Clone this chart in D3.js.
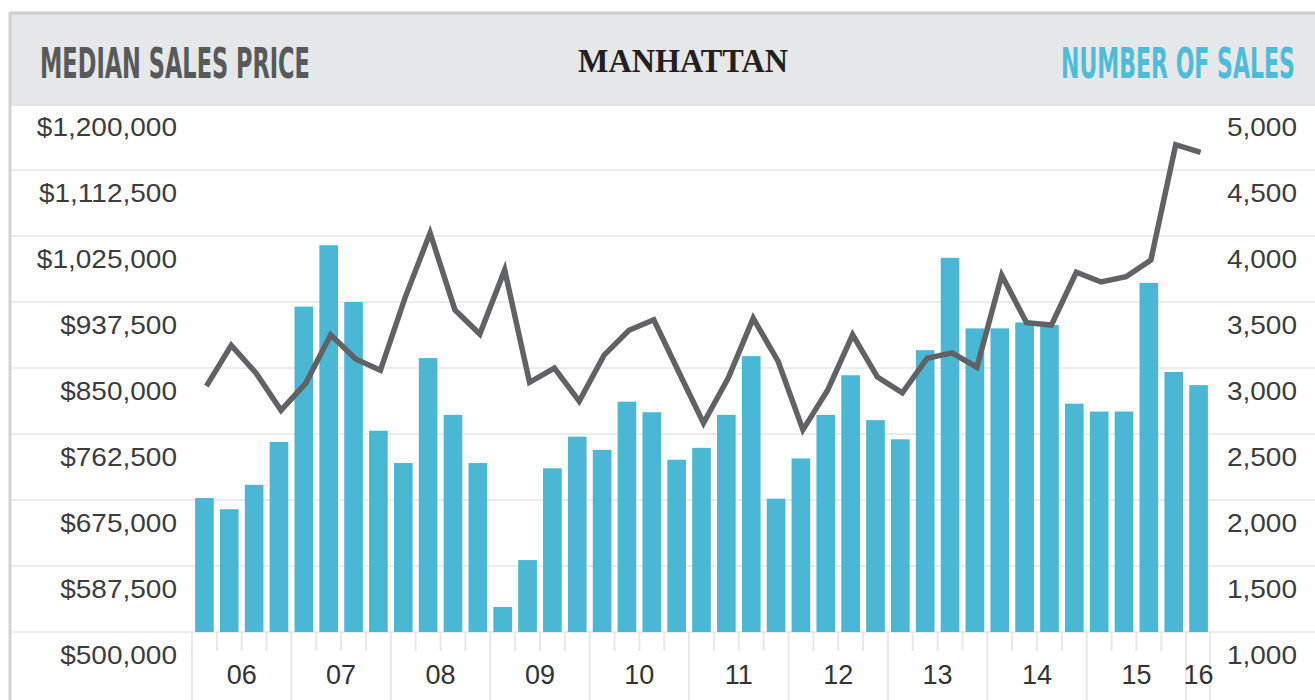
<!DOCTYPE html>
<html>
<head>
<meta charset="utf-8">
<script src="https://cdn.jsdelivr.net/npm/d3@7"></script>
<style>
body { margin: 0; background: #fff; }
svg { display: block; }
</style>
</head>
<body>
<div id="chart"></div>
<script>
// quarterly data, 1Q06 .. 1Q16
const quarters = ["1Q06","2Q06","3Q06","4Q06","1Q07","2Q07","3Q07","4Q07","1Q08","2Q08","3Q08","4Q08",
  "1Q09","2Q09","3Q09","4Q09","1Q10","2Q10","3Q10","4Q10","1Q11","2Q11","3Q11","4Q11",
  "1Q12","2Q12","3Q12","4Q12","1Q13","2Q13","3Q13","4Q13","1Q14","2Q14","3Q14","4Q14",
  "1Q15","2Q15","3Q15","4Q15","1Q16"];
const salesCount = [2015,1930,2115,2440,3465,3930,3500,2525,2280,3075,2645,2280,
  1190,1545,2240,2480,2380,2745,2665,2305,2395,2645,3090,2010,
  2315,2645,2945,2605,2460,3135,3835,3300,3300,3345,3325,2730,
  2670,2670,3645,2970,2870];
const medianPrice = [826000,880000,843000,794000,830000,894000,862000,847000,944000,1029000,927000,895000,
  980000,831000,850000,806000,867000,900000,914000,845000,777000,837000,916000,859000,
  768000,821000,894000,838000,817000,863000,870000,851000,973000,910000,907000,977000,
  964000,971000,993000,1146000,1136000];
const years = ["06","07","08","09","10","11","12","13","14","15","16"];
const priceTicks = [500000,587500,675000,762500,850000,937500,1025000,1112500,1200000];
const salesTicks = [1000,1500,2000,2500,3000,3500,4000,4500,5000];

const W = 1315, H = 700;
const svg = d3.select("#chart").append("svg").attr("width", W).attr("height", H);

// frame + header band
svg.append("rect").attr("x", 10).attr("y", 13).attr("width", W - 10).attr("height", 93).attr("fill", "#e6e7e8");
svg.append("line").attr("x1", 10).attr("x2", W).attr("y1", 13).attr("y2", 13).style("stroke", "#cdcdcd").style("stroke-width", 3);
svg.append("line").attr("x1", 10).attr("x2", 10).attr("y1", 12).attr("y2", H).style("stroke", "#d2d2d2").style("stroke-width", 3);

let x = d3.scaleBand().domain(quarters).range([192, 1211]).paddingInner(0.25).paddingOuter(0.125);
let yPrice = d3.scaleLinear().domain([500000, 1200000]).range([632, 104]);
let ySales = d3.scaleLinear().domain([1000, 5000]).range([632, 104]);
let step = x.step(), bw = x.bandwidth(), gap = step - bw;

// grid
svg.append("g").selectAll("line").data(salesTicks.slice(0, -1)).enter().append("line")
  .attr("x1", 12).attr("x2", W)
  .attr("y1", d => ySales(d)).attr("y2", d => ySales(d))
  .style("stroke", "#ececec").style("stroke-width", 2);

// quarter ticks below the baseline
svg.append("g").selectAll("line").data(quarters).enter().append("line")
  .attr("x1", d => x(d) - gap / 2).attr("x2", d => x(d) - gap / 2)
  .attr("y1", 632)
  .attr("y2", (d, i) => i % 4 == 0 ? H : 651)
  .style("stroke", "#e8e8e8").style("stroke-width", 2);
svg.append("line").attr("x1", x.range()[1] - 1).attr("x2", x.range()[1] - 1).attr("y1", 632).attr("y2", H)
  .style("stroke", "#e8e8e8").style("stroke-width", 2);

// bars
svg.append("g").selectAll("rect").data(quarters).enter().append("rect")
  .attr("x", d => x(d))
  .attr("y", (d, i) => ySales(salesCount[i]))
  .attr("width", bw)
  .attr("height", (d, i) => ySales(1000) - ySales(salesCount[i]))
  .attr("fill", "#4ab8d5");

// price line
let line = d3.line().x((d, i) => x(quarters[i]) + bw / 2 + 2).y(d => yPrice(d));
svg.append("path").datum(medianPrice).attr("d", line)
  .attr("fill", "none").style("stroke", "#616264").style("stroke-width", 5.5)
  .style("stroke-linejoin", "miter");

// axis labels (hang under their gridlines)
let left = svg.append("g").selectAll("text").data(priceTicks).enter().append("text")
  .attr("x", 177).attr("y", d => yPrice(d) + 25)
  .attr("text-anchor", "end").attr("dominant-baseline", "middle")
  .style("font-family", "Liberation Sans, Arial, sans-serif").style("font-size", "25px").style("fill", "#3c3c3c")
  .text(d => "$" + d3.format(",")(d));
let right = svg.append("g").selectAll("text").data(salesTicks).enter().append("text")
  .attr("x", 1297).attr("y", d => ySales(d) + 25)
  .attr("text-anchor", "end").attr("dominant-baseline", "middle")
  .style("font-family", "Liberation Sans, Arial, sans-serif").style("font-size", "25px").style("fill", "#3c3c3c")
  .text(d => d3.format(",")(d));
// the labels in the picture are a bit wider than the font
[left, right].forEach(sel => sel.each(function() {
  let w = this.getComputedTextLength();
  d3.select(this).attr("textLength", w * 1.12).attr("lengthAdjust", "spacingAndGlyphs");
}));

// year labels
svg.append("g").selectAll("text").data(years).enter().append("text")
  .attr("x", yr => {
    let qs = quarters.filter(q => q.slice(2) == yr);
    let a = x(qs[0]) - gap / 2, b = x(qs[qs.length - 1]) + bw + gap / 2;
    return (a + b) / 2;
  })
  .attr("y", 677).attr("text-anchor", "middle").attr("dominant-baseline", "middle")
  .style("font-family", "Liberation Sans, Arial, sans-serif").style("font-size", "27px").style("fill", "#333")
  .text(d => d);

// header titles, squeezed to the width they have in the picture
function title(txt, x0, y0, width, font, size, color) {
  let t = svg.append("text").text(txt).attr("x", 0).attr("y", 0)
    .style("font-family", font).style("font-weight", "bold")
    .style("font-size", size + "px").style("fill", color);
  let w = t.node().getComputedTextLength();
  t.attr("transform", "translate(" + x0 + "," + y0 + ") scale(" + (width / w) + ",1)");
}
title("MEDIAN SALES PRICE", 40, 78, 270, "Liberation Sans Narrow, DejaVu Sans Condensed, sans-serif", 42, "#58595b");
title("MANHATTAN", 578, 72, 210, "Liberation Serif, DejaVu Serif, serif", 34, "#231f20");
title("NUMBER OF SALES", 1061, 78, 234, "Liberation Sans Narrow, DejaVu Sans Condensed, sans-serif", 42, "#4dbcd8");
</script>
</body>
</html>
